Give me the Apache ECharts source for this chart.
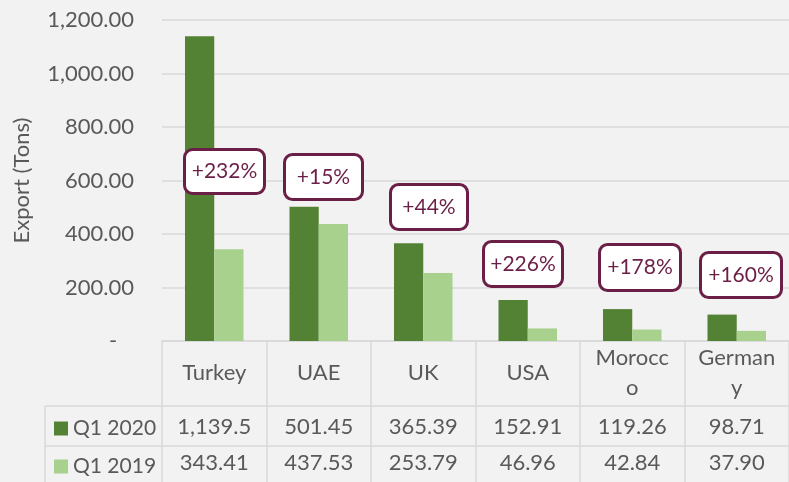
<!DOCTYPE html>
<html><head><meta charset="utf-8">
<script src="https://cdn.jsdelivr.net/npm/echarts@6/dist/echarts.min.js"></script>
<style>html,body{margin:0;padding:0;background:#F2F2F2}#c{width:789px;height:482px}</style>
</head><body><div id="c"></div>
<script>
// ---- data ----
const categories = ['Turkey', 'UAE', 'UK', 'USA', 'Morocc\no', 'German\ny'];
const seriesNames = ['Q1 2020', 'Q1 2019'];
const q1_2020 = [1139.5, 501.45, 365.39, 152.91, 119.26, 98.71];
const q1_2019 = [343.41, 437.53, 253.79, 46.96, 42.84, 37.90];
const changeLabels = ['+232%', '+15%', '+44%', '+226%', '+178%', '+160%'];
const yMin = 0, yMax = 1200, yStep = 200;

// ---- layout / style (not data) ----
const boxLayout = [
  [183, 148, 83, 47], [283, 153, 81, 48], [389, 183, 80, 48],
  [482, 240, 82, 48], [598, 243, 84, 49], [699, 251, 84, 48]
];
const FONT = 'Lato';
const FS = 22;
const TXT = '#595959';
const GRIDC = '#D9D9D9';
const PURPLE = '#6B1F47';
const DARK = '#548235', LIGHT = '#A9D18E';

function fmtTable(v) {
  if (v >= 1000) return v.toLocaleString('en-US', {minimumFractionDigits: 1, maximumFractionDigits: 1});
  return v.toLocaleString('en-US', {minimumFractionDigits: 2, maximumFractionDigits: 2});
}
function fmtAxis(v) {
  if (v === 0) return '-   ';
  return v.toLocaleString('en-US', {minimumFractionDigits: 2, maximumFractionDigits: 2});
}

const chart = echarts.init(document.getElementById('c'), null, {renderer: 'canvas'});

const valueAxis = (arr, margin) => ({
  type: 'category', data: categories, position: 'bottom', gridIndex: 0,
  axisLine: {show: false}, axisTick: {show: false}, splitLine: {show: false},
  axisLabel: {
    interval: 0, margin: margin, verticalAlign: 'middle', fontFamily: FONT, fontSize: FS, color: TXT,
    formatter: (val, idx) => fmtTable(arr[idx])
  }
});

const graphics = [
  {type: 'line', shape: {x1: 45, y1: 406, x2: 789, y2: 406}, style: {stroke: GRIDC, lineWidth: 1.5}, silent: true},
  {type: 'line', shape: {x1: 45, y1: 446, x2: 789, y2: 446}, style: {stroke: GRIDC, lineWidth: 1.5}, silent: true},
  {type: 'line', shape: {x1: 45, y1: 406, x2: 45, y2: 482}, style: {stroke: GRIDC, lineWidth: 1.5}, silent: true}
];
changeLabels.forEach((lab, i) => {
  const [x, y, w, h] = boxLayout[i];
  graphics.push({
    type: 'rect', z: 100, shape: {x: x + 1.5, y: y + 1.5, width: w - 3, height: h - 3, r: 8},
    style: {fill: '#FFFFFF', stroke: PURPLE, lineWidth: 3}
  });
  graphics.push({
    type: 'text', z: 101, x: x + w / 2, y: y + h / 2,
    style: {text: lab, align: 'center', verticalAlign: 'middle', fill: PURPLE, font: '21px ' + FONT}
  });
});

const legendBase = {
  orient: 'vertical', left: 54, padding: 0,
  itemWidth: 14, itemHeight: 14, icon: 'rect', selectedMode: false,
  textStyle: {fontFamily: FONT, fontSize: 21, color: TXT, lineHeight: 14}
};

chart.setOption({
  animation: false,
  backgroundColor: '#F2F2F2',
  grid: {left: 162, right: 0, top: 20, bottom: 141, containLabel: false},
  legend: [
    Object.assign({}, legendBase, {data: [seriesNames[0]], top: 418}),
    Object.assign({}, legendBase, {data: [seriesNames[1]], top: 456})
  ],
  xAxis: [
    {
      type: 'category', data: categories, position: 'bottom', gridIndex: 0,
      axisLine: {show: true, lineStyle: {color: GRIDC, width: 1.5}},
      axisTick: {show: true, interval: 0, alignWithLabel: false, length: 141, lineStyle: {color: GRIDC, width: 1.5}},
      axisLabel: {interval: 0, margin: 32, verticalAlign: 'middle', lineHeight: 30,
        fontFamily: FONT, fontSize: FS, color: TXT}
    },
    valueAxis(q1_2020, 86),
    valueAxis(q1_2019, 122)
  ],
  yAxis: {
    type: 'value', min: yMin, max: yMax, interval: yStep,
    name: 'Export (Tons)', nameLocation: 'middle', nameGap: 129,
    nameTextStyle: {fontFamily: FONT, fontSize: FS, color: TXT},
    axisLine: {show: false}, axisTick: {show: false},
    splitLine: {show: true, lineStyle: {color: GRIDC, width: 1.5}},
    axisLabel: {margin: 28, fontFamily: FONT, fontSize: FS, color: TXT, formatter: fmtAxis}
  },
  series: [
    {name: seriesNames[0], type: 'bar', xAxisIndex: 0, data: q1_2020, barWidth: '28%', barGap: '0%',
     itemStyle: {color: DARK}},
    {name: seriesNames[1], type: 'bar', xAxisIndex: 0, data: q1_2019, barWidth: '28%', barGap: '0%',
     itemStyle: {color: LIGHT}}
  ],
  graphic: {elements: graphics}
});
</script>
</body></html>
